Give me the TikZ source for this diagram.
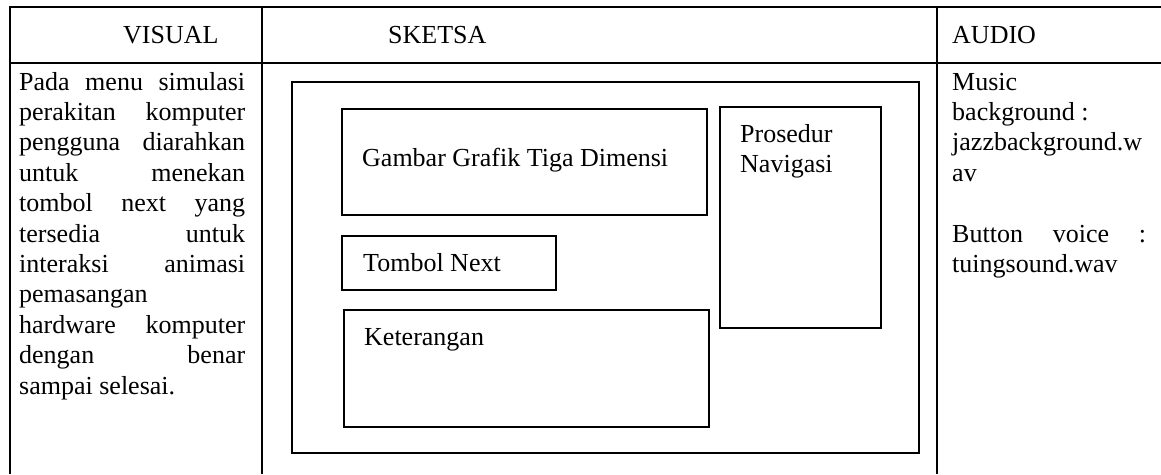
\documentclass[tikz,border=0pt]{standalone}
\usepackage{fontspec}
\setmainfont{Liberation Serif}
\newcommand{\cellfont}{\fontsize{26}{30.4}\selectfont}
\newcommand{\fillline}[1]{\makebox[\linewidth][s]{#1}}
\begin{document}
\begin{tikzpicture}[x=1pt,y=-1pt,
  rule/.style={line width=1.9pt},
  mockbox/.style={draw, line width=1.6pt, inner sep=0pt, anchor=north west},
  txt/.style={inner sep=0pt, anchor=base west, font=\cellfont}]
% canvas
\useasboundingbox (0,0) rectangle (1161,474);
\fill[white] (0,0) rectangle (1161,474);

% table rules
\draw[rule] (10,474) -- (10,7) -- (1161,7);
\draw[rule] (10,63) -- (1161,63);
\draw[rule] (262,7) -- (262,474);
\draw[rule] (937,7) -- (937,474);

% column headings
\node[txt] (hvisual) at (123,43) {VISUAL};
\node[txt] (hsketsa) at (388,43) {SKETSA};
\node[txt] (haudio)  at (952,43) {AUDIO};

% visual description
\node[txt] (visual) at (19,90) {\parbox[t]{226pt}{\cellfont
  \fillline{Pada menu simulasi}\\
  \fillline{perakitan komputer}\\
  \fillline{pengguna diarahkan}\\
  \fillline{untuk menekan}\\
  \fillline{tombol next yang}\\
  \fillline{tersedia untuk}\\
  \fillline{interaksi animasi}\\
  pemasangan\\
  \fillline{hardware komputer}\\
  \fillline{dengan benar}\\
  sampai selesai.}};

% audio description
\node[txt] (audio) at (952,90) {\parbox[t]{194pt}{\cellfont
  Music\\
  background :\\
  jazzbackground.w\\
  av\\[30.4pt]
  \fillline{Button voice :}\\
  tuingsound.wav}};

% screen sketch
\node[mockbox, minimum width=627pt, minimum height=371pt] (screen) at (291,81) {};
\node[mockbox, minimum width=365pt, minimum height=106pt] (grafik) at (341,108) {};
\node[mockbox, minimum width=214pt, minimum height=54pt]  (next)   at (341,235) {};
\node[mockbox, minimum width=365pt, minimum height=117pt] (ket)    at (343,309) {};
\node[mockbox, minimum width=161pt, minimum height=221pt] (nav)    at (719,106) {};

\node[txt] (tgrafik) at (362,166) {Gambar Grafik Tiga Dimensi};
\node[txt] (tnext)   at (363,271) {Tombol Next};
\node[txt] (tket)    at (364,345) {Keterangan};
\node[txt] (tnav)    at (740,142) {\parbox[t]{140pt}{\cellfont Prosedur\\ Navigasi}};
\end{tikzpicture}
\end{document}
